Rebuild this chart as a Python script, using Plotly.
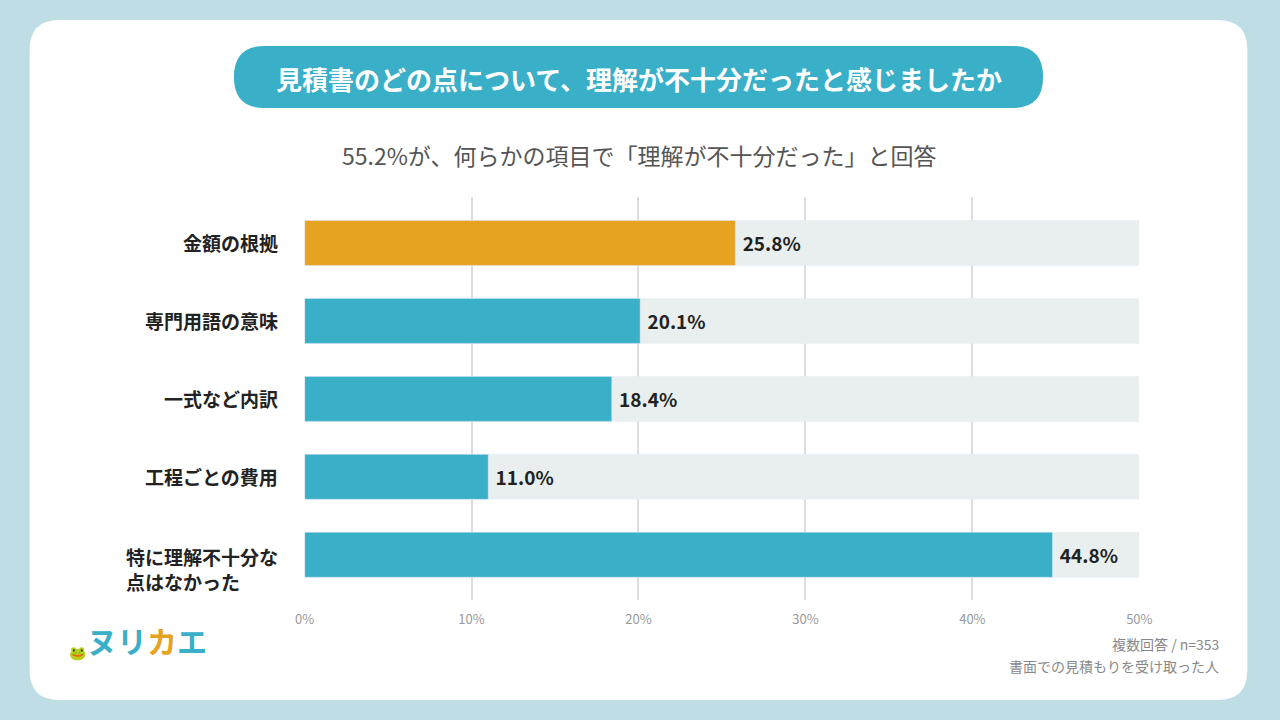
import plotly.graph_objects as go

categories = ["金額の根拠", "専門用語の意味", "一式など内訳", "工程ごとの費用", "特に理解不十分な<br>点はなかった"]
values = [25.8, 20.1, 18.4, 11.0, 44.8]
colors = ["#E5A321", "#3AAFC8", "#3AAFC8", "#3AAFC8", "#3AAFC8"]
tick_vals = [0, 10, 20, 30, 40, 50]
tick_text = ["0%", "10%", "20%", "30%", "40%", "50%"]

W, H = 1280, 720
def px(x): return x / W
def py(y): return 1 - y / H

ypos = list(range(len(categories)))
fig = go.Figure()
fig.add_trace(go.Bar(x=[50] * len(categories), y=ypos, orientation="h", marker_color="#E9EFEF",
                     width=0.577, hoverinfo="skip", showlegend=False))
fig.add_trace(go.Bar(x=values, y=ypos, orientation="h", marker_color=colors, width=0.577,
                     text=[f"<b> {v:.1f}%</b>" for v in values], textposition="outside",
                     textfont=dict(size=19, color="#222", family="Noto Sans CJK JP"),
                     cliponaxis=False, showlegend=False))

for i, c in enumerate(categories):
    two = "<br>" in c
    fig.add_annotation(x=px(275), y=i, xref="paper", yref="y", text=f"<b>{c}</b>", showarrow=False,
                       xanchor="right", align="left", font=dict(size=19, color="#222", family="Noto Sans CJK JP"),
                       yanchor="top" if two else "middle", yshift=14 if two else 0)

fig.update_layout(
    autosize=True, margin=dict(l=0, r=0, t=0, b=0),
    paper_bgcolor="#BFDDE5", plot_bgcolor="rgba(0,0,0,0)", barmode="overlay",
    font=dict(family="Noto Sans CJK JP"),
    xaxis=dict(domain=[px(300), px(1150)], range=[0, 50], tickvals=tick_vals, ticktext=tick_text,
               showgrid=True, gridcolor="#DDDDDD", gridwidth=2, zeroline=False,
               tickfont=dict(size=13, color="#999"), ticks="", ticklabelstandoff=10),
    yaxis=dict(domain=[py(600), py(197)], range=[4.58, -0.59], showticklabels=False, showgrid=False, zeroline=False),
)
fig.update_traces(textangle=0)

fig.add_shape(type="path", xref="paper", yref="paper", layer="below",
              path=f"M {px(50)} {py(20)} L {px(1230)} {py(20)} Q {px(1260)} {py(20)} {px(1260)} {py(50)} "
                   f"L {px(1260)} {py(670)} Q {px(1260)} {py(700)} {px(1230)} {py(700)} L {px(50)} {py(700)} "
                   f"Q {px(20)} {py(700)} {px(20)} {py(670)} L {px(20)} {py(50)} Q {px(20)} {py(20)} {px(50)} {py(20)} Z",
              fillcolor="white", line_width=0)
fig.add_shape(type="path", xref="paper", yref="paper", layer="below",
              path=f"M {px(259)} {py(46)} L {px(1021)} {py(46)} Q {px(1052)} {py(46)} {px(1052)} {py(77)} "
                   f"Q {px(1052)} {py(108)} {px(1021)} {py(108)} L {px(259)} {py(108)} "
                   f"Q {px(228)} {py(108)} {px(228)} {py(77)} Q {px(228)} {py(46)} {px(259)} {py(46)}Z",
              fillcolor="#3AAFC8", line_width=0)
fig.add_annotation(x=0.5, y=py(78), xref="paper", yref="paper", showarrow=False, yanchor="middle",
                   text="<b>見積書のどの点について、理解が不十分だったと感じましたか</b>",
                   font=dict(size=26, color="white"))
fig.add_annotation(x=0.5, y=py(155), xref="paper", yref="paper", showarrow=False, yanchor="middle",
                   text="55.2%が、何らかの項目で「理解が不十分だった」と回答",
                   font=dict(size=23, color="#555"))
fig.add_annotation(x=px(1233), y=py(656), xref="paper", yref="paper", showarrow=False, xanchor="right",
                   text="複数回答 / n=353", font=dict(size=14, color="#888"))
fig.add_annotation(x=px(1233), y=py(678), xref="paper", yref="paper", showarrow=False, xanchor="right",
                   text="書面での見積もりを受け取った人", font=dict(size=14, color="#888"))
fig.add_annotation(x=px(58), y=py(664), xref="paper", yref="paper", showarrow=False,
                   text="🐸", font=dict(size=14, color="#E5A321"))
fig.add_annotation(x=px(76), y=py(664), xref="paper", yref="paper", showarrow=False, xanchor="left",
                   text="<b><span style='color:#3AAFC8'>ヌリ</span><span style='color:#E5A321'>カ</span><span style='color:#3AAFC8'>エ</span></b>",
                   font=dict(size=30))

fig.write_html("out.html", config={"displayModeBar": False, "responsive": True},
               default_width="100vw", default_height="100vh",
               post_script="document.body.style.margin='0';document.body.style.overflow='hidden';"
                           "document.documentElement.style.overflow='hidden';")
